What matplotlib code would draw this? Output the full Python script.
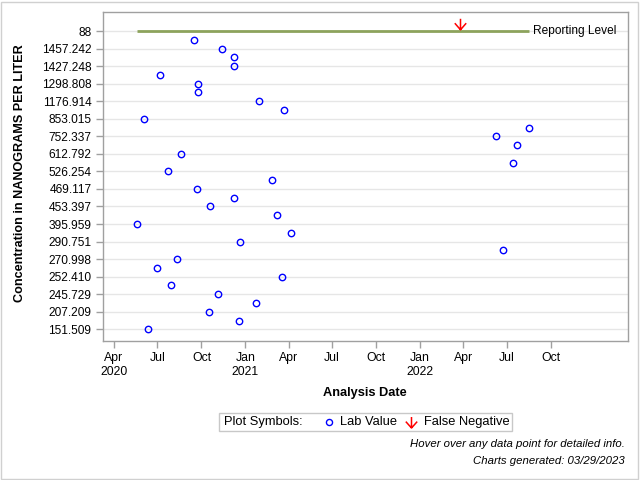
import numpy as np
import pandas as pd
import matplotlib
matplotlib.use("Agg")
from matplotlib import pyplot as plt
from matplotlib.path import Path
from matplotlib.markers import MarkerStyle
from matplotlib.lines import Line2D
from matplotlib.patches import Rectangle

plt.rcParams['font.family'] = ['Liberation Sans', 'DejaVu Sans']

# Lab values, in the order the categories appear on the y axis (top to bottom)
lab_dates = ["2020-09-16", "2020-11-13", "2020-12-08", "2020-12-08", "2020-07-07",
             "2020-09-24", "2020-09-24", "2021-01-30", "2021-03-23", "2020-06-03",
             "2022-08-16", "2022-06-08", "2022-07-22", "2020-08-20", "2022-07-14",
             "2020-07-22", "2021-02-25", "2020-09-21", "2020-12-08", "2020-10-19",
             "2021-03-08", "2020-05-19", "2021-04-07", "2020-12-21", "2022-06-23",
             "2020-08-11", "2020-06-30", "2021-03-19", "2020-07-30", "2020-11-05",
             "2021-01-22", "2020-10-17", "2020-12-19", "2020-06-12"]
lab_values = ["1480.5", "1457.242", "1440.1", "1427.248", "1350.6",
              "1298.808", "1210.4", "1176.914", "980.2", "853.015",
              "801.7", "752.337", "680.4", "612.792", "560.9",
              "526.254", "498.3", "469.117", "461.5", "453.397",
              "421.8", "395.959", "338.2", "290.751", "281.4",
              "270.998", "261.3", "252.410", "249.6", "245.729",
              "226.5", "207.209", "180.4", "151.509"]

reporting_level = "88"
false_neg_dates = ["2022-03-26"]

tick_dates = ["2020-04-01", "2020-07-01", "2020-10-01", "2021-01-01", "2021-04-01",
              "2021-07-01", "2021-10-01", "2022-01-01", "2022-04-01", "2022-07-01",
              "2022-10-01"]
tick_labels = ["Apr\n2020", "Jul", "Oct", "Jan\n2021", "Apr", "Jul", "Oct",
               "Jan\n2022", "Apr", "Jul", "Oct"]

categories = [reporting_level] + lab_values
cat_pos = {c: i for i, c in enumerate(categories)}

dates = pd.to_datetime(lab_dates)
fn_dates = pd.to_datetime(false_neg_dates)

fig = plt.figure(figsize=(6.4, 4.8), dpi=100)
ax = fig.add_axes([102.5 / 640, 1 - 341 / 480, (628 - 102.5) / 640, (341 - 11.7) / 480])

# grid on labelled categories only
for i in range(0, len(categories), 2):
    ax.axhline(i, color='#e6e6e6', lw=1, zorder=0)

# reporting level line across the data range
ax.plot([dates.min(), dates.max()], [cat_pos[reporting_level]] * 2,
        color='#8da35c', lw=2, zorder=1, solid_capstyle='butt')
ax.text(dates.max() + pd.Timedelta(days=10), cat_pos[reporting_level], "Reporting Level",
        va='center', ha='left', fontsize=8.6)

ys = [cat_pos[v] for v in lab_values]
ax.plot(dates, ys, linestyle='none', marker='o', ms=4.6, mfc='none', mec='blue', mew=1, zorder=3)

# false negative arrow (tip just above the line)
arrow = Path([(0, 12.7), (0, 1.7), (-5.7, 8.3), (0, 1.7), (5.7, 8.3)],
             [Path.MOVETO, Path.LINETO, Path.MOVETO, Path.LINETO, Path.LINETO])
ax.plot(fn_dates, [cat_pos[reporting_level]] * len(fn_dates), linestyle='none',
        marker=MarkerStyle(arrow), ms=18.3, mfc='none', mec='red', mew=1.1, zorder=4)

ax.set_ylim(35.33, -2.2)
ax.set_yticks(range(0, len(categories), 2))
ax.set_yticklabels(categories[::2])

ax.set_xlim(pd.Timestamp("2020-03-08"), pd.Timestamp("2023-03-12"))
ax.set_xticks(pd.to_datetime(tick_dates))
ax.set_xticklabels(tick_labels)

ax.tick_params(axis='both', colors='#a0a0a0', labelcolor='black', labelsize=8.6,
               length=5, width=1, pad=3)
ax.tick_params(axis='x', labelsize=8.8)
for s in ax.spines.values():
    s.set_color('#a0a0a0')
    s.set_linewidth(1)

fig.text(20 / 640, 1 - 173 / 480, "Concentration in NANOGRAMS PER LITER", rotation=90,
         ha='center', va='center', fontsize=9.1, fontweight='bold')
fig.text(365 / 640, 1 - 392.7 / 480, "Analysis Date", ha='center', va='center',
         fontsize=9.2, fontweight='bold')

# legend box
fig.patches.append(Rectangle((219.3 / 640, 1 - 431.3 / 480), (511.7 - 219.3) / 640, 18.6 / 480,
                             transform=fig.transFigure, fill=False, edgecolor='#c8c8c8', lw=1))
ly = 1 - 421.7 / 480
fig.text(224.3 / 640, ly, "Plot Symbols:", ha='left', va='center', fontsize=9.3)
fig.add_artist(Line2D([329.3 / 640], [ly], transform=fig.transFigure, linestyle='none',
                      marker='o', ms=4.4, mfc='none', mec='blue', mew=1))
fig.text(340 / 640, ly, "Lab Value", ha='left', va='center', fontsize=9.3)
legend_arrow = Path([(0, 5.5), (0, -5.5), (-5.7, 0.9), (0, -5.5), (5.7, 0.9)],
                    [Path.MOVETO, Path.LINETO, Path.MOVETO, Path.LINETO, Path.LINETO])
fig.add_artist(Line2D([410.7 / 640], [ly], transform=fig.transFigure, linestyle='none',
                      marker=MarkerStyle(legend_arrow), ms=8.2, mfc='none', mec='red', mew=1.1))
fig.text(424 / 640, ly, "False Negative", ha='left', va='center', fontsize=9.3)

fig.text(625 / 640, 1 - 444.3 / 480, "Hover over any data point for detailed info.",
         ha='right', va='center', fontsize=8.2, style='italic')
fig.text(625 / 640, 1 - 460.7 / 480, "Charts generated: 03/29/2023",
         ha='right', va='center', fontsize=8.2, style='italic')

# outer border
fig.patches.append(Rectangle((1 / 640, 1 / 480), 637 / 640, 477 / 480, transform=fig.transFigure,
                             fill=False, edgecolor='#d0d0d0', lw=1))

fig.savefig("out.png", dpi=100)
